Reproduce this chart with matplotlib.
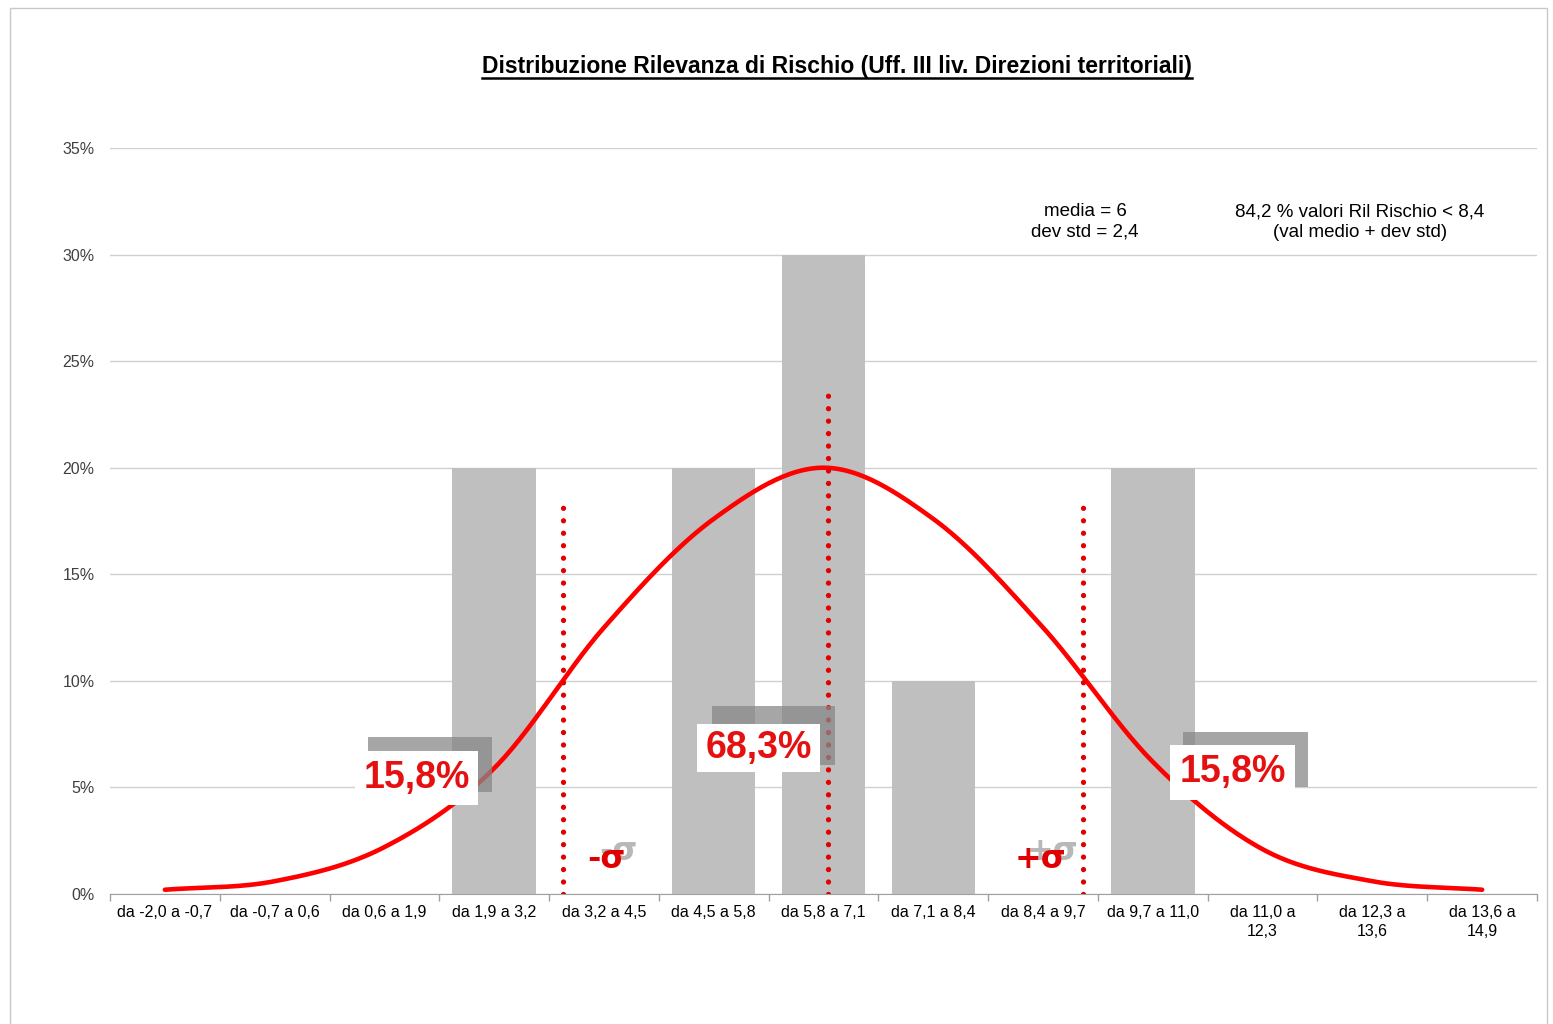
import numpy as np
import matplotlib
matplotlib.use("Agg")
import matplotlib.pyplot as plt
from matplotlib.patches import Rectangle
from matplotlib.lines import Line2D
from matplotlib.ticker import PercentFormatter

plt.rcParams['font.family'] = ['Liberation Sans', 'DejaVu Sans']

# data
categories = ["da -2,0 a -0,7", "da -0,7 a 0,6", "da 0,6 a 1,9", "da 1,9 a 3,2",
              "da 3,2 a 4,5", "da 4,5 a 5,8", "da 5,8 a 7,1", "da 7,1 a 8,4",
              "da 8,4 a 9,7", "da 9,7 a 11,0", "da 11,0 a\n12,3", "da 12,3 a\n13,6",
              "da 13,6 a\n14,9"]
freq_pct = [0, 0, 0, 20, 0, 20, 30, 10, 0, 20, 0, 0, 0]
normal_pct = [0.2, 0.6, 2.2, 5.9, 12.5, 17.6, 20.0, 17.6, 12.5, 6.2, 2.1, 0.6, 0.2]
sigma_pos = [3.63, 6.04, 8.36]       # category units
sigma_top = [18.2, 23.7, 18.3]       # percent
title = "Distribuzione Rilevanza di Rischio (Uff. III liv. Direzioni territoriali)"

W, H = 1553, 1024
fig = plt.figure(figsize=(W / 100, H / 100), dpi=100)


def fx(x):
    return x / W


def fy(y):
    return 1 - y / H


# chart-area border
fig.patches.append(Rectangle((fx(10), fy(1030)), fx(1537), fy(8) - fy(1030),
                             transform=fig.transFigure, fill=False,
                             edgecolor='#c8c8c8', lw=1))

ax = fig.add_axes([fx(110), fy(894), fx(1537) - fx(110), fy(148) - fy(894)])
x = np.arange(len(categories))
ax.bar(x, freq_pct, width=0.76, color='#bfbfbf', zorder=2)


def smooth(xs, ys, n=30):
    # catmull-rom spline through the points (like Excel's smoothed line)
    xs = np.asarray(xs, float)
    ys = np.asarray(ys, float)
    px_ = np.concatenate([[2 * xs[0] - xs[1]], xs, [2 * xs[-1] - xs[-2]]])
    py_ = np.concatenate([[2 * ys[0] - ys[1]], ys, [2 * ys[-1] - ys[-2]]])
    outx, outy = [], []
    t = np.linspace(0, 1, n, endpoint=False)
    for i in range(1, len(px_) - 2):
        for arr, out in ((px_, outx), (py_, outy)):
            p0, p1, p2, p3 = arr[i - 1:i + 3]
            out.extend(0.5 * ((2 * p1) + (-p0 + p2) * t
                              + (2 * p0 - 5 * p1 + 4 * p2 - p3) * t ** 2
                              + (-p0 + 3 * p1 - 3 * p2 + p3) * t ** 3))
    outx.append(xs[-1])
    outy.append(ys[-1])
    return np.array(outx), np.array(outy)


sx, sy = smooth(x, normal_pct)
ax.plot(sx, sy, color='#ff0000', lw=3.3, solid_capstyle='round', zorder=5)

for xp, top in zip(sigma_pos, sigma_top):
    ax.plot([xp, xp], [0, top], color='#e00000', lw=3.8,
            linestyle=(0, (0.01, 2.35)), dash_capstyle='round', zorder=6)

ax.set_xlim(-0.5, len(categories) - 0.5)
ax.set_ylim(0, 35)
ax.set_yticks(np.arange(0, 36, 5))
ax.yaxis.set_major_formatter(PercentFormatter(decimals=0))
ax.set_xticks(x)
ax.set_xticklabels(categories, fontsize=11.5, linespacing=1.35)
ax.set_xticks(np.arange(-0.5, len(categories), 1), minor=True)
ax.tick_params(axis='x', which='major', length=0, pad=8, colors='#000000')
ax.tick_params(axis='x', which='minor', length=5, color='#a0a0a0', width=1)
ax.tick_params(axis='y', length=0, pad=11, labelsize=11.5, labelcolor='#404040')
ax.grid(axis='y', color='#d0d0d0', lw=1, zorder=0)
ax.set_axisbelow(True)
for s in ['top', 'right', 'left']:
    ax.spines[s].set_visible(False)
ax.spines['bottom'].set_color('#a0a0a0')

# labels with shadow boxes
boxes = [
    ((368, 737, 492, 792), (355, 751, 478, 805), "15,8%"),
    ((712, 706, 835, 765), (697, 724, 820, 772), "68,3%"),
    ((1183, 732, 1308, 787), (1170, 745, 1295, 800), "15,8%"),
]
for (g0, g1, g2, g3), (w0, w1, w2, w3), label in boxes:
    fig.patches.append(Rectangle((fx(g0), fy(g3)), fx(g2 - g0), fy(g1) - fy(g3),
                                 transform=fig.transFigure, color='#888888',
                                 alpha=0.75, lw=0, zorder=4))
    fig.patches.append(Rectangle((fx(w0), fy(w3)), fx(w2 - w0), fy(w1) - fy(w3),
                                 transform=fig.transFigure, color='white',
                                 lw=0, zorder=7))
    fig.text(fx((w0 + w2) / 2), fy((w1 + w3) / 2), label, ha='center', va='center',
             fontsize=27, fontweight='bold', color='#e51010', zorder=8)

# sigma markers: grey shadow copy, red on top
for cx, lab in ((606, "-σ"), (1040, "+σ")):
    fig.text(fx(cx + 12), fy(851), lab, ha='center', va='center', fontsize=23,
             fontweight='bold', color='#b8b8b8', family=['DejaVu Sans'], zorder=8)
    fig.text(fx(cx), fy(859), lab, ha='center', va='center', fontsize=23,
             fontweight='bold', color='#e00000', family=['DejaVu Sans'], zorder=9)

fig.text(fx(1085), fy(222), "media = 6\ndev std = 2,4", ha='center', va='center',
         fontsize=13.5, linespacing=1.25)
fig.text(fx(1360), fy(222), "84,2 % valori Ril Rischio < 8,4\n(val medio + dev std)",
         ha='center', va='center', fontsize=13.5, linespacing=1.25)

t = fig.text(fx(837), fy(67), title, ha='center', va='center', fontsize=16.5,
             fontweight='bold')
fig.canvas.draw()
bb = t.get_window_extent()
fig.lines.append(Line2D([bb.x0 / W, bb.x1 / W], [(bb.y0 + 1) / H, (bb.y0 + 1) / H],
                        transform=fig.transFigure, color='black', lw=1.8))

fig.savefig("out.png", dpi=100, facecolor='white')
